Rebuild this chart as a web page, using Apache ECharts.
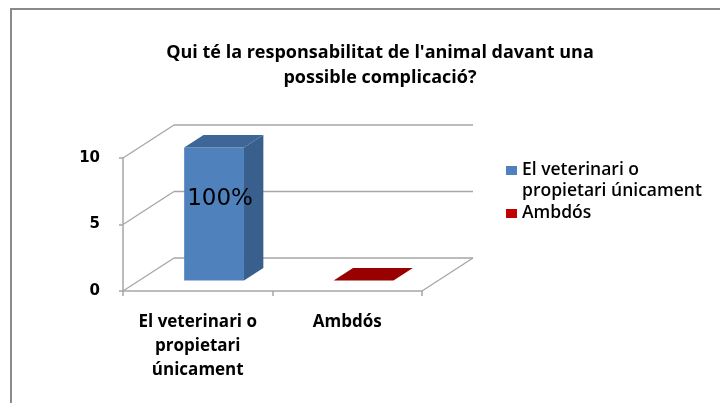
<!DOCTYPE html>
<html>
<head>
<meta charset="utf-8">
<script src="https://cdn.jsdelivr.net/npm/echarts@6/dist/echarts.min.js"></script>
<style>html,body{margin:0;padding:0;background:#fff}#c{width:720px;height:403px}</style>
</head>
<body>
<div id="c"></div>
<script>
// ---- data ----
var titleText = "Qui té la responsabilitat de l'animal davant una\npossible complicació?";
var categories = ["El veterinari o\npropietari\núnicament", "Ambdós"];
var seriesNames = ["El veterinari o\npropietari únicament", "Ambdós"];
var seriesValues = [10, 0];          // value of each series at its own category
var seriesCategoryIndex = [0, 1];
var seriesLabels = ["100%", ""];
var yTicks = [0, 5, 10];
var yMin = 0, yMax = 10, yInterval = 5;

// ---- styling ----
var DX = 51, DY = -33;           // 3D depth offset of the walls
var FRONT = 0.32, DEPTH = 0.38;  // bar placement within depth
var BAR_W = 0.40;                // bar width relative to band
var faceColors = [
  {front: '#4f81bd', side: '#395f8d', top: '#3e6797', legend: '#4f81bd'},
  {front: '#c00000', side: '#8c0000', top: '#990000', legend: '#c00000'}
];
var gridColor = '#a6a6a6';

var chart = echarts.init(document.getElementById('c'), null, {renderer: 'canvas'});

function frameItem(params, api) {
  var cs = params.coordSys;
  var v = api.value(1);
  var y = api.coord([0, v])[1];
  var x0 = cs.x, x1 = cs.x + cs.width;
  var style = {stroke: gridColor, lineWidth: 1.3};
  var children = [
    {type: 'line', shape: {x1: x0, y1: y, x2: x0 + DX, y2: y + DY}, style: style},
    {type: 'line', shape: {x1: x0 + DX, y1: y + DY, x2: x1 + DX, y2: y + DY}, style: style}
  ];
  if (v === yMin) {
    children.push({type: 'line', shape: {x1: x1, y1: y, x2: x1 + DX, y2: y + DY}, style: style});
  }
  return {type: 'group', children: children};
}

function barItemFactory(si) {
  return function (params, api) {
    var c = api.value(0), v = api.value(1);
    var base = api.coord([c, yMin]);
    var top = api.coord([c, v]);
    var band = api.size([1, 0])[0];
    var w = band * BAR_W;
    var fx = FRONT * DX, fy = FRONT * DY;
    var dx = DEPTH * DX, dy = DEPTH * DY;
    var xl = base[0] - w / 2 + fx, xr = base[0] + w / 2 + fx;
    var yb = base[1] + fy, yt = top[1] + fy;
    var col = faceColors[si];
    var children = [];
    if (yb - yt > 0.5) {
      children.push({type: 'polygon', shape: {points: [[xl, yt], [xr, yt], [xr, yb], [xl, yb]]}, style: {fill: col.front}});
      children.push({type: 'polygon', shape: {points: [[xr, yt], [xr + dx, yt + dy], [xr + dx, yb + dy], [xr, yb]]}, style: {fill: col.side}});
    }
    children.push({type: 'polygon', shape: {points: [[xl, yt], [xl + dx, yt + dy], [xr + dx, yt + dy], [xr, yt]]}, style: {fill: col.top}});
    if (seriesLabels[si]) {
      children.push({type: 'text', style: {
        text: seriesLabels[si], x: (xl + xr) / 2 + 6, y: yt + 52,
        align: 'center', verticalAlign: 'middle',
        font: '23px "DejaVu Sans", sans-serif', fill: '#000'
      }, z2: 10});
    }
    return {type: 'group', children: children};
  };
}

var series = [{
  type: 'custom', name: '_frame', silent: true, z: 1,
  renderItem: frameItem,
  data: yTicks.map(function (v) { return [0, v]; }),
  clip: false
}];
seriesNames.forEach(function (n, i) {
  series.push({
    type: 'custom', name: n, z: 3, clip: false,
    itemStyle: {color: faceColors[i].legend},
    renderItem: barItemFactory(i),
    data: [[seriesCategoryIndex[i], seriesValues[i]]]
  });
});

chart.setOption({
  animation: false,
  backgroundColor: '#fff',
  graphic: [{
    type: 'rect', shape: {x: 11, y: 9, width: 730, height: 420},
    style: {fill: 'none', stroke: '#8a8a8a', lineWidth: 2}, silent: true
  }],
  title: {
    text: titleText, left: 375, top: 35, textAlign: 'center',
    textStyle: {fontFamily: '"Open Sans", sans-serif', fontWeight: 'bold', fontSize: 18, lineHeight: 25, color: '#000'}
  },
  legend: {
    orient: 'vertical', left: 501, top: 134,
    itemWidth: 11, itemHeight: 9, itemGap: 1, icon: 'rect',
    formatter: function (n) { return n.indexOf('\n') >= 0 ? ' \n' + n : n; },
    textStyle: {fontFamily: '"Open Sans", sans-serif', fontWeight: 600, fontSize: 17.5, lineHeight: 21, color: '#000'},
    data: seriesNames
  },
  grid: {left: 123, right: 298, top: 158, bottom: 112, containLabel: false},
  xAxis: {
    type: 'category', data: categories,
    axisLine: {lineStyle: {color: gridColor, width: 1.5}},
    axisTick: {show: true, length: 5, alignWithLabel: false, lineStyle: {color: gridColor, width: 1.5}},
    axisLabel: {margin: 19, interval: 0, lineHeight: 24, color: '#000',
      fontFamily: '"Open Sans", sans-serif', fontWeight: 'bold', fontSize: 17}
  },
  yAxis: {
    type: 'value', min: yMin, max: yMax, interval: yInterval,
    axisLine: {show: true, lineStyle: {color: gridColor, width: 1.5}},
    axisTick: {show: true, length: 4, lineStyle: {color: gridColor, width: 1.5}},
    splitLine: {show: false},
    axisLabel: {margin: 23, color: '#000', fontFamily: '"DejaVu Sans", sans-serif', fontWeight: 'bold', fontSize: 15}
  },
  series: series
});
</script>
</body>
</html>
